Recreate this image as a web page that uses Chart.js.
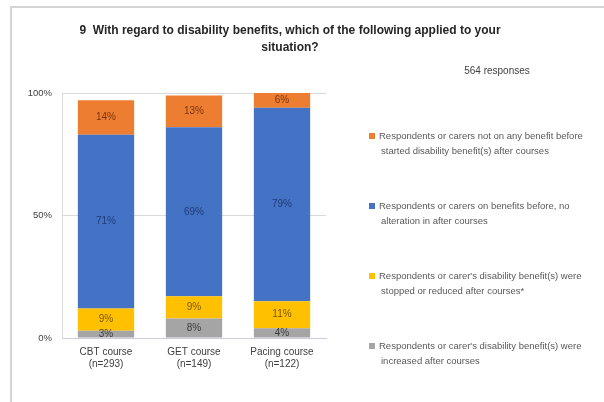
<!DOCTYPE html>
<html>
<head>
<meta charset="utf-8">
<script src="https://cdn.jsdelivr.net/npm/chart.js@4/dist/chart.umd.min.js"></script>
<style>
  html, body { margin: 0; padding: 0; background: #ffffff; }
  #wrap { position: relative; width: 604px; height: 402px; overflow: hidden; }
  #frame { position: absolute; left: 10px; top: 6px; width: 700px; height: 500px;
           border-top: 2px solid #d4d4d4; border-left: 2px solid #d4d4d4; }
  canvas { position: absolute; left: 0; top: 0; }
</style>
</head>
<body>
<div id="wrap">
  <div id="frame"></div>
  <canvas id="c" width="604" height="402"></canvas>
</div>
<script>
// ---- data ----
const titleLines = ["9  With regard to disability benefits, which of the following applied to your", "situation?"];
const responsesText = "564 responses";
const categories = [["CBT course", "(n=293)"], ["GET course", "(n=149)"], ["Pacing course", "(n=122)"]];
const increased = [3, 8, 4];
const stoppedReduced = [9, 9, 11];
const noAlteration = [71, 69, 79];
const startedAfter = [14, 13, 6];
const seriesNames = [
  ["Respondents or carer's disability benefit(s) were", "increased after courses"],
  ["Respondents or carer's disability benefit(s) were", "stopped or reduced after courses*"],
  ["Respondents or carers on benefits before, no", "alteration in after courses"],
  ["Respondents or carers not on any benefit before", "started disability benefit(s) after courses"]
];
const yTicks = [0, 50, 100];

const colors = ["#a5a5a5", "#ffc000", "#4472c4", "#ed7d31"];
const labelColors = ["#3a3a3a", "#7a5a00", "#1f3c78", "#7a3510"];

const headerPlugin = {
  id: 'header',
  afterDraw(chart) {
    const ctx = chart.ctx;
    ctx.save();
    ctx.fillStyle = '#262626';
    ctx.font = 'bold 12px "Liberation Sans", Arial, sans-serif';
    ctx.textAlign = 'center';
    ctx.textBaseline = 'middle';
    ctx.fillText(titleLines[0], 290, 31);
    ctx.fillText(titleLines[1], 290, 48);
    ctx.font = '10px "Liberation Sans", Arial, sans-serif';
    ctx.fillStyle = '#404040';
    ctx.fillText(responsesText, 497, 71);
    ctx.restore();
  }
};

const legendPlugin = {
  id: 'sideLegend',
  afterDraw(chart) {
    const ctx = chart.ctx;
    const ds = chart.data.datasets;
    ctx.save();
    ctx.font = '9.5px "Liberation Sans", Arial, sans-serif';
    ctx.textAlign = 'left';
    ctx.textBaseline = 'middle';
    const startY = 136, gap = 70, lineGap = 15;
    for (let i = 0; i < ds.length; i++) {
      const d = ds[ds.length - 1 - i];
      const y = startY + i * gap;
      ctx.fillStyle = d.backgroundColor;
      ctx.fillRect(369, y - 3, 6, 6);
      ctx.fillStyle = '#595959';
      ctx.fillText(d.labelLines[0], 379, y);
      ctx.fillText(d.labelLines[1], 381, y + lineGap);
    }
    ctx.restore();
  }
};

const valueLabelPlugin = {
  id: 'valueLabels',
  afterDatasetsDraw(chart) {
    const ctx = chart.ctx;
    ctx.save();
    ctx.font = '10px "Liberation Sans", Arial, sans-serif';
    ctx.textAlign = 'center';
    ctx.textBaseline = 'middle';
    chart.data.datasets.forEach((d, i) => {
      const meta = chart.getDatasetMeta(i);
      meta.data.forEach((bar, j) => {
        const v = d.data[j];
        const yc = (bar.y + bar.base) / 2;
        ctx.fillStyle = d.valueColor;
        ctx.fillText(v + '%', bar.x, yc);
      });
    });
    ctx.restore();
  }
};

const datasets = [increased, stoppedReduced, noAlteration, startedAfter].map((arr, i) => ({
  label: seriesNames[i].join(' '),
  labelLines: seriesNames[i],
  data: arr,
  backgroundColor: colors[i],
  valueColor: labelColors[i],
  borderWidth: 0,
  categoryPercentage: 1.0,
  barPercentage: 0.64
}));

new Chart(document.getElementById('c'), {
  type: 'bar',
  data: { labels: categories, datasets },
  plugins: [headerPlugin, legendPlugin, valueLabelPlugin],
  options: {
    responsive: false,
    animation: false,
    devicePixelRatio: 1,
    layout: { padding: { left: 12, right: 278, top: 93, bottom: 18 } },
    plugins: { legend: { display: false }, tooltip: { enabled: false }, title: { display: false } },
    scales: {
      x: {
        stacked: true,
        grid: { display: false, drawTicks: false },
        border: { display: true, color: '#c8cce0', width: 1 },
        ticks: { color: '#404040', font: { family: '"Liberation Sans", Arial, sans-serif', size: 10 }, padding: 8, maxRotation: 0 },
        afterFit(scale) { scale.height = 46; }
      },
      y: {
        stacked: true,
        min: 0, max: 100,
        afterBuildTicks(scale) { scale.ticks = yTicks.map(v => ({ value: v })); },
        grid: { color: '#d9d9d9', drawTicks: false },
        border: { display: true, color: '#d9d9d9' },
        ticks: { color: '#404040', font: { family: '"Liberation Sans", Arial, sans-serif', size: 9.5 }, padding: 10,
                 callback: v => v + '%' },
        afterFit(scale) { scale.width = 50; }
      }
    }
  }
});
</script>
</body>
</html>
